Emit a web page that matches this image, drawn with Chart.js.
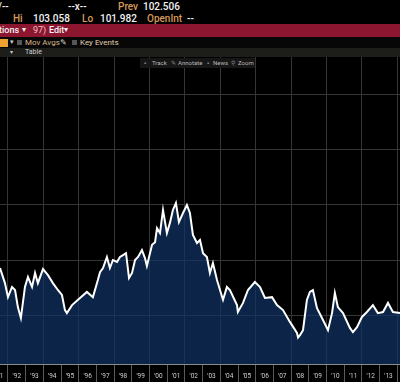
<!DOCTYPE html>
<html><head><meta charset="utf-8">
<script src="https://cdn.jsdelivr.net/npm/chart.js@4.4.1/dist/chart.umd.min.js"></script>
<style>
html,body{margin:0;padding:0;background:#000;width:400px;height:382px;overflow:hidden;font-family:"Roboto","Liberation Sans",sans-serif;}
.t{position:absolute;white-space:nowrap;line-height:1;}
.o{color:#d9995a;font-weight:500;}
.w{color:#f2f2f2;font-weight:500;}
#red{position:absolute;left:0;top:24px;width:400px;height:13px;background:#8c1630;}
#row4{position:absolute;left:0;top:37px;width:400px;height:11px;background:#070707;}
#row5{position:absolute;left:0;top:48px;width:400px;height:9px;background:#1d1d1a;}
#tools{position:absolute;left:140px;top:58px;width:115px;height:10px;background:#161616;z-index:3;}
#wrap{position:absolute;left:0;top:57px;width:400px;height:325px;}
</style></head>
<body>
<div class="t w" style="left:-2px;top:2px;font-size:10px;">/--</div>
<div class="t w" style="left:68px;top:2px;font-size:10px;">--x--</div>
<div class="t o" style="left:118px;top:2px;font-size:10px;">Prev</div>
<div class="t w" style="left:143px;top:2px;font-size:10px;">102.506</div>
<div class="t o" style="left:13px;top:14px;font-size:10px;">Hi</div>
<div class="t w" style="left:33px;top:14px;font-size:10px;">103.058</div>
<div class="t o" style="left:82px;top:14px;font-size:10px;">Lo</div>
<div class="t w" style="left:100px;top:14px;font-size:10px;">101.982</div>
<div class="t o" style="left:147px;top:14px;font-size:10px;">OpenInt</div>
<div class="t w" style="left:187px;top:14px;font-size:10px;">--</div>
<div id="red"></div>
<div class="t w" style="left:-1px;top:26px;font-size:9px;">tions</div>
<div class="t w" style="left:22px;top:26px;font-size:8px;">▾</div>
<div class="t" style="left:33px;top:26px;font-size:9px;color:#f0c0c8;">97)</div>
<div class="t w" style="left:49px;top:26px;font-size:9px;">Edit</div>
<div class="t w" style="left:64px;top:26px;font-size:8px;">▾</div>
<div id="row4"></div>
<div style="position:absolute;left:0;top:39px;width:8px;height:8px;background:#f0a030;"></div>
<div class="t" style="left:10px;top:39px;font-size:7px;color:#ccc;">▾</div>
<div style="position:absolute;left:17px;top:40px;width:5px;height:5px;background:#555;"></div>
<div class="t" style="left:25px;top:38.5px;font-size:8px;color:#d6b58a;">Mov Avgs</div>
<div class="t" style="left:60px;top:38.5px;font-size:8px;color:#ccc;">✎</div>
<div style="position:absolute;left:72px;top:40px;width:5px;height:5px;background:#555;"></div>
<div class="t" style="left:80px;top:38.5px;font-size:8px;color:#e0cfae;">Key Events</div>
<div id="row5"></div>
<div class="t" style="left:10px;top:49px;font-size:6px;color:#ccc;">▾</div>
<div class="t" style="left:25px;top:49px;font-size:7px;color:#d0d0d0;">Table</div>
<div id="tools">
<div class="t" style="left:4px;top:2px;font-size:6px;color:#888;">▪</div>
<div class="t" style="left:12px;top:2px;font-size:6px;color:#b8b8b8;">Track</div>
<div class="t" style="left:31px;top:2px;font-size:6px;color:#888;">✎</div>
<div class="t" style="left:38px;top:2px;font-size:6px;color:#b8b8b8;">Annotate</div>
<div class="t" style="left:67px;top:2px;font-size:6px;color:#888;">▪</div>
<div class="t" style="left:73px;top:2px;font-size:6px;color:#b8b8b8;">News</div>
<div class="t" style="left:91px;top:2px;font-size:6px;color:#888;">⚲</div>
<div class="t" style="left:98px;top:2px;font-size:6px;color:#b8b8b8;">Zoom</div>
</div>
<div id="wrap"><canvas id="c" width="400" height="325"></canvas></div>
<script>
// decimal-year dates and index values
const dates = [1991.55,1991.83,1992.0,1992.23,1992.40,1992.56,1992.73,1992.96,1993.13,1993.36,1993.53,1993.69,1993.98,
1994.26,1994.54,1994.82,1995.05,1995.22,1995.33,1995.62,1996.07,1996.46,1996.80,1997.08,
1997.20,1997.37,1997.59,1997.76,1997.93,1998.16,1998.33,1998.50,1998.67,1998.84,1999.01,1999.18,1999.35,1999.57,
1999.74,1999.85,2000.14,2000.31,2000.42,2000.59,2000.76,2000.98,2001.15,2001.32,2001.49,2001.66,2001.89,2002.11,
2002.28,2002.45,2002.68,2002.85,2003.02,2003.24,2003.41,2003.58,2003.81,2003.98,2004.15,2004.37,2004.54,
2004.94,2004.99,2005.28,2005.56,2005.95,2006.24,2006.52,2006.92,2007.20,2007.54,2007.93,2008.33,
2008.39,2008.50,2008.67,2008.89,2009.06,2009.23,2009.46,2009.80,2010.08,2010.31,2010.47,2010.64,2010.93,2011.32,
2011.49,2011.72,2012.0,2012.28,2012.62,2012.90,2013.19,2013.47,2013.75,2014.15];
const values = [97.1,91.6,86.5,90.2,89.1,82.9,78.9,90.2,93.8,90.2,95.3,91.6,96.7,
94.5,91.6,89.1,87.3,81.8,80.7,83.6,86.2,88.4,86.5,92.7,
95.6,97.1,101.1,97.1,100.0,99.3,101.1,101.8,102.5,93.5,95.3,100.0,101.1,103.6,
100.7,97.8,105.5,106.5,111.6,109.8,118.2,109.8,113.5,118.2,120.7,113.8,117.1,120.0,
117.1,109.1,106.2,107.3,102.5,101.1,95.3,98.9,92.7,89.1,85.5,90.2,89.1,
83.6,81.1,84.4,89.1,92.0,90.2,86.2,86.5,83.6,81.8,77.5,73.5,
71.8,72.7,74.5,85.5,88.4,89.1,82.5,78.2,74.5,80.7,88.0,82.9,80.7,75.3,
73.8,75.6,79.3,81.1,83.6,80.7,81.1,84.4,81.1,80.7];
const yearTicks = [1991,1992,1993,1994,1995,1996,1997,1998,1999,2000,2001,2002,2003,2004,2005,2006,2007,2008,2009,2010,2011,2012,2013,2014];
const gridValues = [80,100,120,140,160];

new Chart(document.getElementById('c'), {
  type: 'line',
  data: { datasets: [{
    data: dates.map((d, i) => ({ x: d, y: values[i] })),
    borderColor: '#ffffff', borderWidth: 2, pointRadius: 0, tension: 0,
    fill: 'start', backgroundColor: 'rgba(15,50,100,0.72)'
  }]},
  options: {
    responsive: false, animation: false,
    layout: { padding: 0 },
    plugins: { legend: { display: false }, tooltip: { enabled: false } },
    scales: {
      x: {
        type: 'linear', min: 1991.55, max: 2014.15,
        afterBuildTicks: s => { s.ticks = yearTicks.map(v => ({ value: v })); },
        afterFit: s => { s.height = 18; s.paddingLeft = 0; s.paddingRight = 0; },
        grid: {
          color: c => (c.tick && c.tick.value % 2 === 0) ? '#363636' : 'rgba(0,0,0,0)',
          tickColor: '#5a5a5a', tickLength: 18, lineWidth: 1
        },
        border: { display: true, color: '#8c8c8c', width: 1 },
        ticks: {
          autoSkip: false, maxRotation: 0, minRotation: 0, color: '#cfcfcf',
          font: { size: 6.5, family: 'Roboto, "Liberation Sans", sans-serif' },
          padding: -10, labelOffset: 8.85,
          callback: v => "'" + String(v % 100).padStart(2, '0')
        }
      },
      y: {
        min: 62.2, max: 173.8,
        afterBuildTicks: s => { s.ticks = gridValues.map(v => ({ value: v })); },
        afterFit: s => { s.width = 0; },
        grid: { color: '#363636', drawTicks: false, lineWidth: 1 },
        border: { display: false },
        ticks: { display: false }
      }
    }
  }
});
</script>
</body></html>
